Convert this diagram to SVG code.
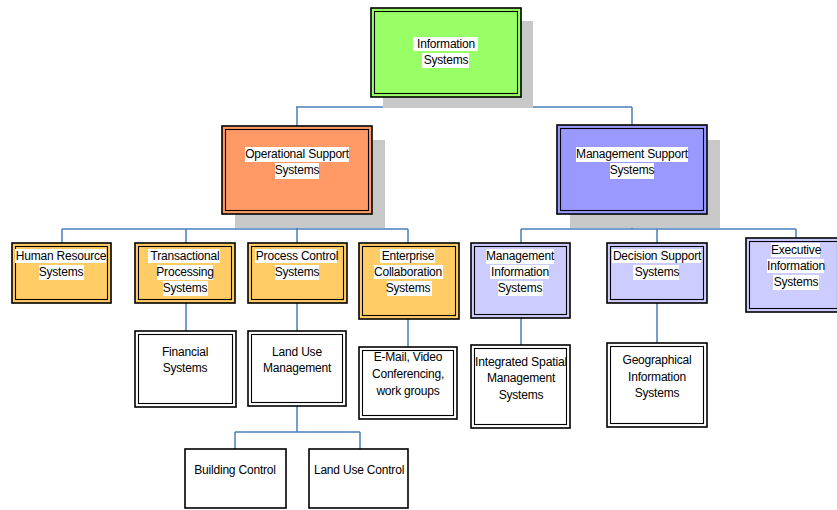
<svg xmlns="http://www.w3.org/2000/svg" width="837" height="510" viewBox="0 0 837 510">
<style>
.o{stroke:#000;stroke-width:1.6}
.i{fill:none;stroke:#000;stroke-width:1.1}
.sh{fill:#c8c8c8}
.hl{fill:#fff}
text{font-family:"Liberation Sans",Arial,sans-serif;font-size:12px;fill:#000;text-anchor:middle;letter-spacing:-0.2px}
#connectors path{fill:none;stroke:#4a7ebb;stroke-width:1.5}
</style>
<rect width="837" height="510" fill="#fff"/>
<g id="connectors">
<path d="M446,97V107M296,107H632M297,107V126M632,107V125"/>
<path d="M297,214V229M62,229H408M62,229V243M186,229V243M297,229V243M408,229V243"/>
<path d="M632,214V229M521,229H796M521,229V243M657,229V243M796,229V238"/>
<path d="M186,303V331M297,303V331M408,319V347M521,318V345M657,303V343"/>
<path d="M297,406V432M235,432H360M235,432V449M360,432V449"/>
</g>
<g id="information-systems">
<rect class="sh" x="383" y="21" width="150" height="87"/>
<rect class="o" x="371" y="8" width="150" height="89" fill="#99ff66"/>
<rect class="i" x="374.5" y="11.5" width="143" height="82"/>
<rect class="hl" x="413" y="37" width="65" height="14"/>
<rect class="hl" x="422" y="53" width="47" height="15"/>
<text x="446" y="48">Information</text>
<text x="446" y="64">Systems</text>
</g>
<g id="operational-support">
<rect class="sh" x="235" y="140" width="150" height="88"/>
<rect class="o" x="222" y="126" width="150" height="88" fill="#ff9966"/>
<rect class="i" x="225.5" y="129.5" width="143" height="81"/>
<rect class="hl" x="245" y="147" width="104" height="15"/>
<rect class="hl" x="275" y="163" width="44" height="16"/>
<text x="297" y="158">Operational Support</text>
<text x="297" y="174">Systems</text>
</g>
<g id="management-support">
<rect class="sh" x="570" y="140" width="150" height="88"/>
<rect class="o" x="557" y="125" width="150" height="89" fill="#9999ff"/>
<rect class="i" x="560.5" y="128.5" width="143" height="82"/>
<rect class="hl" x="576" y="147" width="112" height="15"/>
<rect class="hl" x="610" y="163" width="44" height="16"/>
<text x="632" y="158">Management Support</text>
<text x="632" y="174">Systems</text>
</g>
<g id="human-resource">
<rect class="o" x="12" y="243" width="99" height="60" fill="#ffcc66"/>
<rect class="i" x="15.5" y="246.5" width="92" height="53"/>
<rect class="hl" x="15" y="249" width="91" height="14"/>
<rect class="hl" x="39" y="265" width="45" height="15"/>
<text x="61" y="260">Human Resource</text>
<text x="61" y="276">Systems</text>
</g>
<g id="transactional">
<rect class="o" x="135" y="243" width="100" height="60" fill="#ffcc66"/>
<rect class="i" x="138.5" y="246.5" width="93" height="53"/>
<rect class="hl" x="148" y="249" width="72" height="14"/>
<rect class="hl" x="157" y="265" width="56" height="15"/>
<rect class="hl" x="163" y="281" width="45" height="15"/>
<text x="185" y="260">Transactional</text>
<text x="185" y="276">Processing</text>
<text x="185" y="292">Systems</text>
</g>
<g id="process-control">
<rect class="o" x="248" y="243" width="99" height="60" fill="#ffcc66"/>
<rect class="i" x="251.5" y="246.5" width="92" height="53"/>
<rect class="hl" x="255" y="249" width="82" height="14"/>
<rect class="hl" x="275" y="265" width="44" height="15"/>
<text x="297" y="260">Process Control</text>
<text x="297" y="276">Systems</text>
</g>
<g id="enterprise-collaboration">
<rect class="o" x="359" y="243" width="100" height="76" fill="#ffcc66"/>
<rect class="i" x="362.5" y="246.5" width="93" height="69"/>
<rect class="hl" x="380" y="249" width="55" height="14"/>
<rect class="hl" x="374" y="265" width="69" height="14"/>
<rect class="hl" x="387" y="281" width="45" height="15"/>
<text x="408" y="260">Enterprise</text>
<text x="408" y="276">Collaboration</text>
<text x="408" y="292">Systems</text>
</g>
<g id="management-information">
<rect class="o" x="471" y="243" width="99" height="75" fill="#ccccff"/>
<rect class="i" x="474.5" y="246.5" width="92" height="68"/>
<rect class="hl" x="486" y="249" width="68" height="15"/>
<rect class="hl" x="490" y="265" width="59" height="14"/>
<rect class="hl" x="498" y="281" width="45" height="15"/>
<text x="520" y="260">Management</text>
<text x="520" y="276">Information</text>
<text x="520" y="292">Systems</text>
</g>
<g id="decision-support">
<rect class="o" x="607" y="243" width="100" height="60" fill="#ccccff"/>
<rect class="i" x="610.5" y="246.5" width="93" height="53"/>
<rect class="hl" x="612" y="249" width="89" height="14"/>
<rect class="hl" x="633" y="265" width="46" height="15"/>
<text x="657" y="260">Decision Support</text>
<text x="657" y="276">Systems</text>
</g>
<g id="executive-information">
<rect class="o" x="746" y="238" width="95" height="74" fill="#ccccff"/>
<rect class="i" x="749.5" y="241.5" width="88" height="67"/>
<rect class="hl" x="771" y="243" width="49" height="14"/>
<rect class="hl" x="767" y="259" width="57" height="14"/>
<rect class="hl" x="773" y="275" width="46" height="15"/>
<text x="796" y="254">Executive</text>
<text x="796" y="270">Information</text>
<text x="796" y="286">Systems</text>
</g>
<g id="financial">
<rect class="o" x="135" y="331" width="101" height="76" fill="#fff"/>
<rect class="i" x="138.5" y="334.5" width="94" height="69"/>
<text x="185" y="356">Financial</text>
<text x="185" y="372">Systems</text>
</g>
<g id="land-use-management">
<rect class="o" x="248" y="331" width="98" height="75" fill="#fff"/>
<rect class="i" x="251.5" y="334.5" width="91" height="68"/>
<text x="297" y="356">Land Use</text>
<text x="297" y="372">Management</text>
</g>
<g id="email-video">
<rect class="o" x="359" y="347" width="98" height="72" fill="#fff"/>
<rect class="i" x="362.5" y="350.5" width="91" height="65"/>
<text x="408" y="361">E-Mail, Video</text>
<text x="408" y="378">Conferencing,</text>
<text x="408" y="395">work groups</text>
</g>
<g id="integrated-spatial">
<rect class="o" x="471" y="345" width="99" height="83" fill="#fff"/>
<rect class="i" x="474.5" y="348.5" width="92" height="76"/>
<text x="521" y="366" textLength="92" lengthAdjust="spacingAndGlyphs">Integrated Spatial</text>
<text x="521" y="382">Management</text>
<text x="521" y="399">Systems</text>
</g>
<g id="geographical">
<rect class="o" x="607" y="343" width="100" height="84" fill="#fff"/>
<rect class="i" x="610.5" y="346.5" width="93" height="77"/>
<text x="657" y="364">Geographical</text>
<text x="657" y="381">Information</text>
<text x="657" y="397">Systems</text>
</g>
<g id="building-control">
<rect class="o" x="185" y="449" width="101" height="59" fill="#fff" stroke-width="1.3"/>
<text x="235" y="474">Building Control</text>
</g>
<g id="land-use-control">
<rect class="o" x="309" y="449" width="99" height="59" fill="#fff" stroke-width="1.3"/>
<text x="359" y="474">Land Use Control</text>
</g>
</svg>
